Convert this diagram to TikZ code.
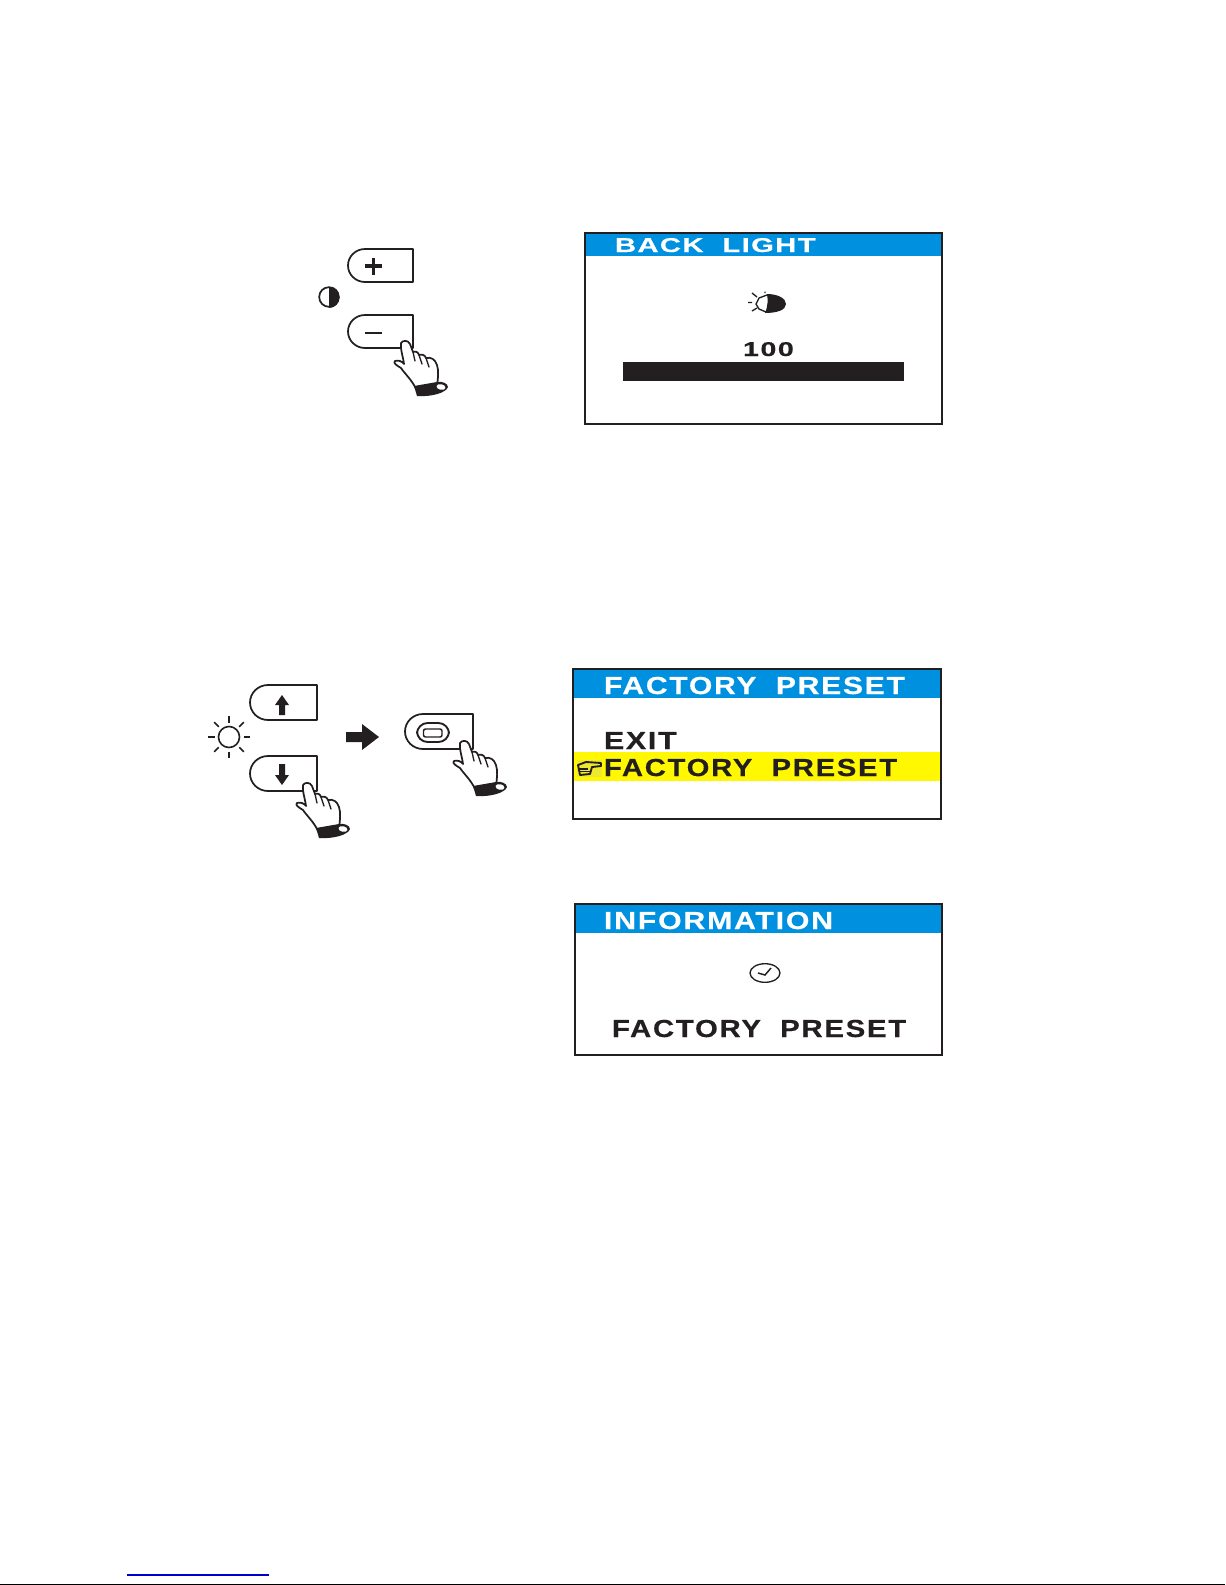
\documentclass[tikz,border=0pt]{standalone}
\usepackage{fontspec}
\usetikzlibrary{calc}
\setmainfont{Liberation Sans}
\definecolor{inkk}{HTML}{231F20}
\definecolor{barblue}{HTML}{0090E0}
\definecolor{rowyellow}{HTML}{FFF800}
\definecolor{boxyellow}{HTML}{EEE830}
\definecolor{linkblue}{HTML}{0000CC}
\newcommand{\widetext}[2]{\addfontfeature{FakeStretch=#1,LetterSpace=7,FakeBold=0.35}#2}
\newcommand{\wgap}{\hspace{7pt} }
\tikzset{
  screen/.style={draw=inkk,line width=1.7pt,fill=none},
  keyline/.style={draw=inkk,line width=1.3pt,line join=round},
  handline/.style={draw=inkk,line width=1.3pt,line join=round,line cap=round,fill=white},
  stext/.style={anchor=base west,inner sep=0pt,outer sep=0pt},
  bigtext/.style={stext,font=\bfseries\fontsize{18.5pt}{20pt}\selectfont},
  pics/hand/.style={code={
    \path[handline] (-4,2) .. controls (-2,-1) and (3,-1) .. (5,3) -- (8,11)
      .. controls (11,10) and (13,11) .. (14,14)
      .. controls (17,13) and (20,14) .. (21,17)
      .. controls (26,16) and (30,18) .. (32,24)
      .. controls (34,30) and (33,38) .. (32,44)
      -- (11,48) .. controls (7,39) and (0,33) .. (-4,27)
      .. controls (-9,24) and (-12,22) .. (-10,20)
      .. controls (-7,19) and (-3,20) .. (-1,23)
      .. controls (-2,15) and (-5,8) .. (-4,2) -- cycle;
    \draw[inkk,line width=1pt,line cap=round] (8,11) -- (10,20) (14,14) -- (17,23) (21,17) -- (24,26);
    \fill[inkk] (9,45) -- (32,41) .. controls (36,40) and (43,42) .. (43,46)
      .. controls (41,52) and (26,56) .. (12,55) -- cycle;
    \fill[white,rotate around={-12:(36,46)}] (36,46) ellipse (4.5 and 2.8);
  }},
}
\begin{document}
\begin{tikzpicture}[x=0.75pt,y=-0.75pt]
\useasboundingbox (0,0) rectangle (1225,1585);
\fill[white] (0,0) rectangle (1225,1585);
% --- top-left keys
\path[keyline] (413,249) -- (365,249) arc[start angle=270,end angle=90,x radius=17,y radius=16.5] -- (413,282) -- cycle;
\draw[inkk,line width=2.6pt] (365,266) -- (382,266) (373.5,257.5) -- (373.5,274.5);
\path[keyline] (413,315) -- (365,315) arc[start angle=270,end angle=90,x radius=17,y radius=16.5] -- (413,348) -- cycle;
\draw[inkk,line width=1.6pt] (365,333) -- (382,333);
\draw[inkk,line width=1.3pt] (329,297) circle (9.8);
\fill[inkk] (329,287) arc[start angle=-90,end angle=90,radius=10.5] -- cycle;
\pic at (405,341) {hand};
% --- back light screen
\fill[barblue] (585,233) rectangle (942,256);
\draw[screen] (585,233) rectangle (942,424);
\node[stext,text=white,font=\bfseries\fontsize{15pt}{18pt}\selectfont] (t1) at (615,252) {\widetext{1.46}{BACK\wgap LIGHT}};
\node[stext,text=inkk,font=\bfseries\fontsize{15pt}{18pt}\selectfont] (n1) at (743,356) {\widetext{1.44}{100}};
\fill[inkk] (623,362) rectangle (904,381);
% bulb
\fill[inkk] (767,294) .. controls (777,294) and (786,298) .. (786,304) .. controls (786,310) and (777,313) .. (765,313) .. controls (768,306) and (768,300) .. (767,294) -- cycle;
\draw[inkk,line width=1pt] (767,295) -- (759,298) -- (756,304) -- (759,309) -- (766,312);
\draw[inkk,line width=1pt] (752,293) -- (757,297) (748,302.5) -- (752,302.5) (752,311) -- (757,308) (765,291.5) -- (765,293);
% --- bottom-left keys
\path[keyline] (317,685) -- (268,685) arc[start angle=270,end angle=90,x radius=18,y radius=17.5] -- (317,720) -- cycle;
\path[keyline] (317,756) -- (268,756) arc[start angle=270,end angle=90,x radius=18,y radius=17.5] -- (317,791) -- cycle;
\fill[inkk] (282,695) -- (289,705) -- (285,705) -- (285,715) -- (279,715) -- (279,705) -- (275,705) -- cycle;
\fill[inkk] (282,785) -- (289,775) -- (285,775) -- (285,764) -- (279,764) -- (279,775) -- (275,775) -- cycle;
% sun
\draw[inkk,line width=1.2pt] (229,737) circle (10.5);
\foreach \a in {0,45,...,315}{\draw[inkk,line width=1.2pt] ($(229,737)+(\a:14.5)$) -- ($(229,737)+(\a:21)$);}
% big arrow
\fill[inkk] (346,732) -- (362,732) -- (362,724) -- (379,737) -- (362,750) -- (362,742) -- (346,742) -- cycle;
% menu key
\path[keyline] (473,714) -- (423,714) arc[start angle=270,end angle=90,x radius=18,y radius=17.5] -- (473,749) -- cycle;
\draw[inkk,line width=1.4pt,rounded corners=8pt] (417,723) rectangle (449,742);
\draw[inkk,line width=1.1pt,rounded corners=1.5pt] (423.5,729) rectangle (442,737);
\pic at (464,741) {hand};
\pic at (307,783) {hand};
% --- factory preset screen
\fill[barblue] (573,669) rectangle (941,698);
\fill[rowyellow] (573,752) rectangle (941,781);
\fill[boxyellow] (577,760) rectangle (602,777);
\draw[screen] (573,669) rectangle (941,819);
\node[bigtext,text=white] (t2) at (604,694) {\widetext{1.22}{FACTORY\wgap PRESET}};
\node[bigtext,text=inkk] (e1) at (604,749) {\widetext{1.23}{EXIT}};
\node[bigtext,text=inkk] (f1) at (604,776) {\widetext{1.185}{FACTORY\wgap PRESET}};
% pointing hand
\draw[inkk,line width=1.4pt,line join=round] (578,765) -- (586,762) -- (601,763) -- (601,766) -- (592,767) -- (590,774) -- (580,775) -- cycle;
\draw[inkk,line width=.8pt] (588,769) -- (579,769) (590,771.5) -- (579,771.5);
% --- information screen
\fill[barblue] (575,904) rectangle (941,933);
\draw[screen] (575,904) rectangle (942,1055);
\node[bigtext,text=white] (t3) at (604,929) {\widetext{1.23}{INFORMATION}};
\node[bigtext,text=inkk] (f2) at (612,1037) {\widetext{1.19}{FACTORY\wgap PRESET}};
\draw[inkk,line width=1pt] (765,973) ellipse (15 and 9.3);
\draw[inkk,line width=1.1pt] (758,973) -- (765,975) -- (771,968);
% --- foot
\draw[linkblue,line width=1pt] (127,1575) -- (269,1575);
\draw[black,line width=1pt] (0,1584.3) -- (1225,1584.3);
\end{tikzpicture}
\end{document}
